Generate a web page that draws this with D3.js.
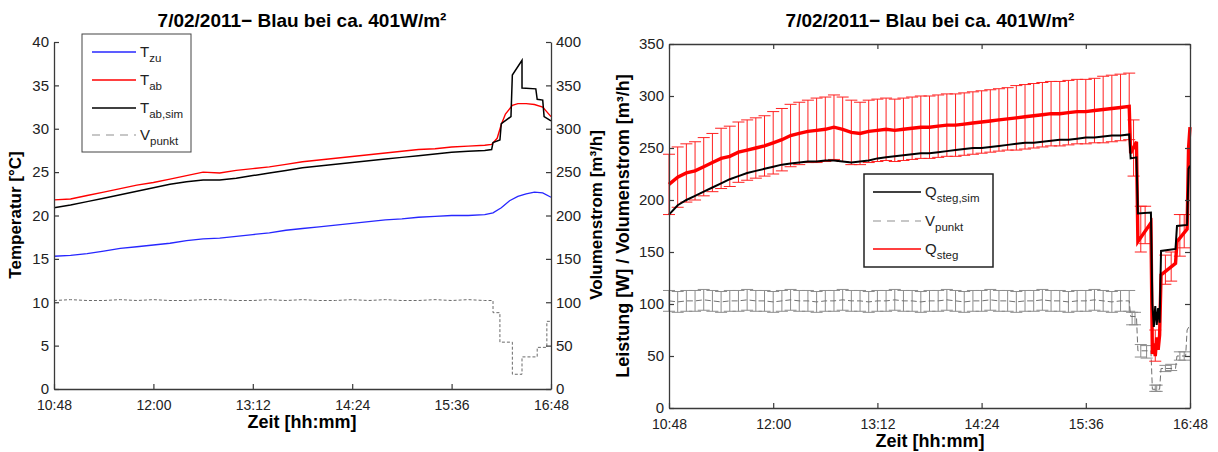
<!DOCTYPE html>
<html><head><meta charset="utf-8">
<script src="https://cdn.jsdelivr.net/npm/d3@7"></script>
<style>body{margin:0;background:#fff;} svg{display:block;}</style>
</head><body>
<svg id="c" width="1218" height="452"></svg>
<script>
// ---------------- DATA ----------------
const titleText = "7/02/2011\u2212 Blau bei ca. 401W/m\u00b2";
const xTickLabels = ["10:48","12:00","13:12","14:24","15:36","16:48"];
const yTicksTemp = [0,5,10,15,20,25,30,35,40];
const yTicksVol = [0,50,100,150,200,250,300,350,400];
const yTicksRight = [0,50,100,150,200,250,300,350];

// Left chart: temperatures (°C)
const baseTimesL = ["10:48","11:00","11:12","11:24","11:36","11:48","12:00","12:12","12:24","12:36","12:48","13:00","13:12","13:24","13:36","13:48","14:00","14:12","14:24","14:36","14:48","15:00","15:12","15:24","15:36","15:48","16:00"];
const tzuTimes = baseTimesL.concat(["16:06","16:12","16:18","16:24","16:30","16:36","16:42","16:48"]);
const tzuValues = [15.3,15.4,15.6,15.9,16.2,16.4,16.6,16.8,17.1,17.3,17.4,17.6,17.8,18.0,18.3,18.5,18.7,18.9,19.1,19.3,19.5,19.6,19.8,19.9,20.0,20.0,20.1,
                   20.3,20.9,21.7,22.2,22.5,22.7,22.6,22.1];
const tabTimes = baseTimesL.concat(["16:05","16:09","16:12","16:15","16:20","16:24","16:30","16:36","16:42","16:48"]);
const tabValues = [21.8,21.9,22.3,22.7,23.1,23.5,23.8,24.2,24.6,25.0,24.9,25.2,25.4,25.6,25.9,26.2,26.4,26.6,26.8,27.0,27.2,27.4,27.6,27.7,27.9,28.0,28.1,
                   28.2,28.9,30.5,31.7,32.7,32.9,32.9,32.8,32.5,31.4];
const tabSimTimes = baseTimesL.concat(["16:05","16:06","16:11","16:12","16:19","16:20","16:27","16:27","16:37","16:38","16:42","16:43","16:48"]);
const tabSimValues = [20.9,21.2,21.6,22.0,22.4,22.8,23.2,23.6,23.9,24.1,24.1,24.3,24.6,24.9,25.2,25.5,25.7,25.9,26.1,26.3,26.5,26.7,26.9,27.1,27.3,27.4,27.5,
                      27.6,28.4,28.7,30.6,31.4,36.2,37.9,34.7,34.6,33.4,33.3,31.4,30.9];
// Left chart: volume flow (m³/h, right axis)
const vTimesL = baseTimesL.concat(["16:06","16:06","16:11","16:11","16:20","16:20","16:27","16:27","16:38","16:38","16:45","16:45","16:48"]);
const vValuesL = [102,103,102,102,103,102,103,102,102,103,103,102,102,103,102,103,102,102,103,102,103,102,102,103,102,103,102,
                  102,88,88,54,54,17,17,37,37,48,48,78,78];

// Right chart: power (W) and volume flow (m³/h)
const timesR = ["10:48","10:54","11:00","11:06","11:12","11:18","11:24","11:30","11:36","11:42","11:48","11:54","12:00","12:06","12:12","12:18","12:24","12:30","12:36","12:42","12:48","12:54","13:00","13:06","13:12","13:18","13:24","13:30","13:36","13:42","13:48","13:54","14:00","14:06","14:12","14:18","14:24","14:30","14:36","14:42","14:48","14:54","15:00","15:06","15:12","15:18","15:24","15:30","15:36","15:42","15:48","15:54","16:00","16:06"];
const qSteg = [215,222,226,228,232,236,240,242,246,248,250,252,255,258,262,264,266,267,268,270,268,265,264,266,267,268,267,268,269,270,270,271,272,272,273,274,275,276,277,278,279,280,281,282,283,283,284,285,285,286,287,288,289,290];
const qStegErr = [29,29,28,28,28,28,29,29,29,29,29,29,30,30,30,30,30,31,31,31,31,31,30,30,30,30,30,30,30,30,30,30,30,30,30,30,30,30,30,30,31,31,31,31,31,31,31,31,31,31,32,32,32,32];
const qStegSim = [186,195,200,204,208,212,216,220,223,226,228,230,232,234,235,236,237,237,238,238,237,236,237,238,240,241,242,243,244,245,245,246,247,248,249,250,250,251,252,253,254,255,255,256,257,258,258,259,260,260,261,262,262,263];
const vPunktR = [103,102,103,103,104,103,102,103,103,104,103,103,102,103,104,103,103,102,103,103,104,103,103,102,103,103,104,103,103,102,103,103,104,103,102,103,103,104,103,103,102,103,103,104,103,103,102,103,103,104,103,102,103,103];
const vPunktErr = [10,10,10,10,10,10,10,10,10,10,10,10,10,10,10,10,10,10,10,10,10,10,10,10,10,10,10,10,10,10,10,10,10,10,10,10,10,10,10,10,10,10,10,10,10,10,10,10,10,10,10,10,10,10];
// Right chart: after 16:06
const tailTimesR = ["16:07","16:11","16:12","16:21","16:22","16:23","16:24","16:25","16:26","16:27","16:28","16:38","16:39","16:46","16:47","16:48"];
const qStegTail = [245,256,160,178,52,62,50,68,56,70,128,139,160,172,250,270];
const qStegSimTail = [240,241,187,188,100,78,98,80,96,82,151,153,175,176,230,233];
const qErrTailTimes = ["16:09","16:14","16:17","16:24","16:31","16:35","16:41","16:44"];
const qErrTailMid = [250,172,176,60,133,136,166,170];
const qErrTailErr = [27,22,18,15,14,14,20,16];
const vTailTimes = ["16:07","16:11","16:12","16:21","16:22","16:27","16:28","16:38","16:39","16:45","16:46","16:48"];
const vTail = [88,88,55,55,18,18,38,38,50,50,75,80];
const vErrTailTimes = ["16:08","16:10","16:14","16:18","16:24","16:25","16:31","16:35","16:41","16:44"];
const vErrTailMid = [86,86,55,54,19,19,38,39,50,50];
const vErrTailErr = [6,6,6,6,3,3,3,3,4,4];

// ---------------- DRAW ----------------
const FONT = '"Liberation Sans", Arial, Helvetica, sans-serif';
const AX = "#3a3a3a";
const TICKFS = 14;
const svg = d3.select("#c").style("font-family", FONT);
const toMin = s => { const p = s.split(":"); return (+p[0]) * 60 + (+p[1]); };
const pts = (times, vals) => times.map((t, i) => ({t: toMin(t), v: vals[i]}));

function styleAxis(g, fs) {
  g.selectAll(".domain").attr("stroke", AX).attr("stroke-width", 1.3);
  g.selectAll(".tick line").attr("stroke", AX).attr("stroke-width", 1.2);
  g.selectAll("text").attr("fill", "#222").style("font-size", fs + "px").style("font-family", FONT);
}
function errBars(g, x, y, data, color, cap, w) {
  const gg = g.append("g").attr("stroke", color).attr("stroke-width", w).attr("fill", "none");
  data.forEach(d => {
    const cx = x(d.t), y1 = y(d.v - d.e), y2 = y(d.v + d.e);
    gg.append("line").attr("x1", cx).attr("x2", cx).attr("y1", y1).attr("y2", y2);
    gg.append("line").attr("x1", cx - cap).attr("x2", cx + cap).attr("y1", y1).attr("y2", y1);
    gg.append("line").attr("x1", cx - cap).attr("x2", cx + cap).attr("y1", y2).attr("y2", y2);
  });
}
function legendEntry(g, x0, x1, y, color, dash, main, sub, width) {
  g.append("line").attr("x1", x0).attr("x2", x1).attr("y1", y).attr("y2", y)
    .attr("stroke", color).attr("stroke-width", width).attr("stroke-dasharray", dash);
  const t = g.append("text").attr("x", x1 + 4).attr("y", y + 5).style("font-size", "15px").attr("fill", "#222");
  t.append("tspan").text(main);
  t.append("tspan").attr("dy", 5).style("font-size", "11.5px").text(sub);
}

// ===== LEFT CHART =====
const xL = d3.scaleLinear().domain([toMin("10:48"), toMin("16:48")]).range([54, 551]);
const yL = d3.scaleLinear().domain([0, 40]).range([389, 42]);
const yL2 = d3.scaleLinear().domain([0, 400]).range([389, 42]);
const xTickVals = xTickLabels.map(toMin);

const lineL = d3.line().x(d => xL(d.t)).y(d => yL(d.v));
const lineL2 = d3.line().x(d => xL(d.t)).y(d => yL2(d.v));

svg.append("path").datum(pts(vTimesL, vValuesL)).attr("d", lineL2)
  .attr("fill", "none").attr("stroke", "#6a6a6a").attr("stroke-width", 1).attr("stroke-dasharray", "3,2");
svg.append("path").datum(pts(tzuTimes, tzuValues)).attr("d", lineL)
  .attr("fill", "none").attr("stroke", "#2727ff").attr("stroke-width", 1.3);
svg.append("path").datum(pts(tabTimes, tabValues)).attr("d", lineL)
  .attr("fill", "none").attr("stroke", "#ff0000").attr("stroke-width", 1.4);
svg.append("path").datum(pts(tabSimTimes, tabSimValues)).attr("d", lineL)
  .attr("fill", "none").attr("stroke", "#000").attr("stroke-width", 1.5);

styleAxis(svg.append("g").attr("transform", "translate(0,389)")
  .call(d3.axisBottom(xL).tickValues(xTickVals).tickFormat((d, i) => xTickLabels[i]).tickSizeInner(-5).tickSizeOuter(0).tickPadding(11)), TICKFS);
styleAxis(svg.append("g").attr("transform", "translate(54,0)")
  .call(d3.axisLeft(yL).tickValues(yTicksTemp).tickSizeInner(-5).tickSizeOuter(0).tickPadding(5)), TICKFS + 1);
styleAxis(svg.append("g").attr("transform", "translate(551,0)")
  .call(d3.axisRight(yL2).tickValues(yTicksVol).tickSizeInner(-5).tickSizeOuter(0).tickPadding(5)), TICKFS + 1);

svg.append("text").attr("x", 302).attr("y", 27).attr("text-anchor", "middle")
  .style("font-size", "19px").style("font-weight", "bold").text(titleText);
svg.append("text").attr("x", 302).attr("y", 428).attr("text-anchor", "middle")
  .style("font-size", "18px").style("font-weight", "bold").text("Zeit [hh:mm]");
svg.append("text").attr("transform", "translate(21,215) rotate(-90)").attr("text-anchor", "middle")
  .style("font-size", "17px").style("font-weight", "bold").text("Temperatur [\u00b0C]");
svg.append("text").attr("transform", "translate(602,215) rotate(-90)").attr("text-anchor", "middle")
  .style("font-size", "17px").style("font-weight", "bold").text("Volumenstrom [m\u00b3/h]");

// legend left
const lgL = svg.append("g");
lgL.append("rect").attr("x", 82).attr("y", 34).attr("width", 109).attr("height", 118)
  .attr("fill", "#fff").attr("stroke", "#444").attr("stroke-width", 1);
legendEntry(lgL, 92, 136, 52, "#2727ff", null, "T", "zu", 1.3);
legendEntry(lgL, 92, 136, 80, "#ff0000", null, "T", "ab", 1.3);
legendEntry(lgL, 92, 136, 108, "#000", null, "T", "ab,sim", 1.3);
legendEntry(lgL, 92, 136, 135, "#b5b5b5", "8,6", "V", "punkt", 1.3);

// ===== RIGHT CHART =====
const xR = d3.scaleLinear().domain([toMin("10:48"), toMin("16:48")]).range([669, 1190]);
const yR = d3.scaleLinear().domain([0, 350]).range([408, 44]);
const lineR = d3.line().x(d => xR(d.t)).y(d => yR(d.v));

const vMain = pts(timesR, vPunktR);
const vErrData = timesR.map((t, i) => ({t: toMin(t), v: vPunktR[i], e: vPunktErr[i]}))
  .concat(vErrTailTimes.map((t, i) => ({t: toMin(t), v: vErrTailMid[i], e: vErrTailErr[i]})));
errBars(svg, xR, yR, vErrData, "#8c8c8c", 6, 1);
svg.append("path").datum(vMain.concat(pts(vTailTimes, vTail))).attr("d", lineR)
  .attr("fill", "none").attr("stroke", "#707070").attr("stroke-width", 1).attr("stroke-dasharray", "6,3");

const qErrData = timesR.map((t, i) => ({t: toMin(t), v: qSteg[i], e: qStegErr[i]}))
  .concat(qErrTailTimes.map((t, i) => ({t: toMin(t), v: qErrTailMid[i], e: qErrTailErr[i]})));
errBars(svg, xR, yR, qErrData, "#ff2020", 6, 1);
svg.append("path").datum(pts(timesR, qSteg).concat(pts(tailTimesR, qStegTail))).attr("d", lineR)
  .attr("fill", "none").attr("stroke", "#ff0000").attr("stroke-width", 3.4);
svg.append("path").datum(pts(timesR, qStegSim).concat(pts(tailTimesR, qStegSimTail))).attr("d", lineR)
  .attr("fill", "none").attr("stroke", "#000").attr("stroke-width", 2);

styleAxis(svg.append("g").attr("transform", "translate(0,408)")
  .call(d3.axisBottom(xR).tickValues(xTickVals).tickFormat((d, i) => xTickLabels[i]).tickSizeInner(-5).tickSizeOuter(0).tickPadding(11)), TICKFS);
styleAxis(svg.append("g").attr("transform", "translate(0,44)")
  .call(d3.axisTop(xR).tickValues(xTickVals).tickFormat("").tickSizeInner(-5).tickSizeOuter(0)), TICKFS);
styleAxis(svg.append("g").attr("transform", "translate(669,0)")
  .call(d3.axisLeft(yR).tickValues(yTicksRight).tickSizeInner(-5).tickSizeOuter(0).tickPadding(5)), TICKFS + 1);
styleAxis(svg.append("g").attr("transform", "translate(1190,0)")
  .call(d3.axisRight(yR).tickValues(yTicksRight).tickFormat("").tickSizeInner(-5).tickSizeOuter(0)), TICKFS);

svg.append("text").attr("x", 930).attr("y", 27).attr("text-anchor", "middle")
  .style("font-size", "19px").style("font-weight", "bold").text(titleText);
svg.append("text").attr("x", 930).attr("y", 447).attr("text-anchor", "middle")
  .style("font-size", "18px").style("font-weight", "bold").text("Zeit [hh:mm]");
svg.append("text").attr("transform", "translate(629,226) rotate(-90)").attr("text-anchor", "middle")
  .style("font-size", "18px").style("font-weight", "bold").text("Leistung [W] / Volumenstrom [m\u00b3/h]");

// legend right
const lgR = svg.append("g");
lgR.append("rect").attr("x", 864).attr("y", 174).attr("width", 129).attr("height", 93)
  .attr("fill", "#fff").attr("stroke", "#222").attr("stroke-width", 1.5);
legendEntry(lgR, 873, 921, 192, "#000", null, "Q", "steg,sim", 1.3);
legendEntry(lgR, 873, 921, 221, "#b5b5b5", "8,6", "V", "punkt", 1.3);
legendEntry(lgR, 873, 921, 249, "#ff0000", null, "Q", "steg", 1.3);
</script>
</body></html>
